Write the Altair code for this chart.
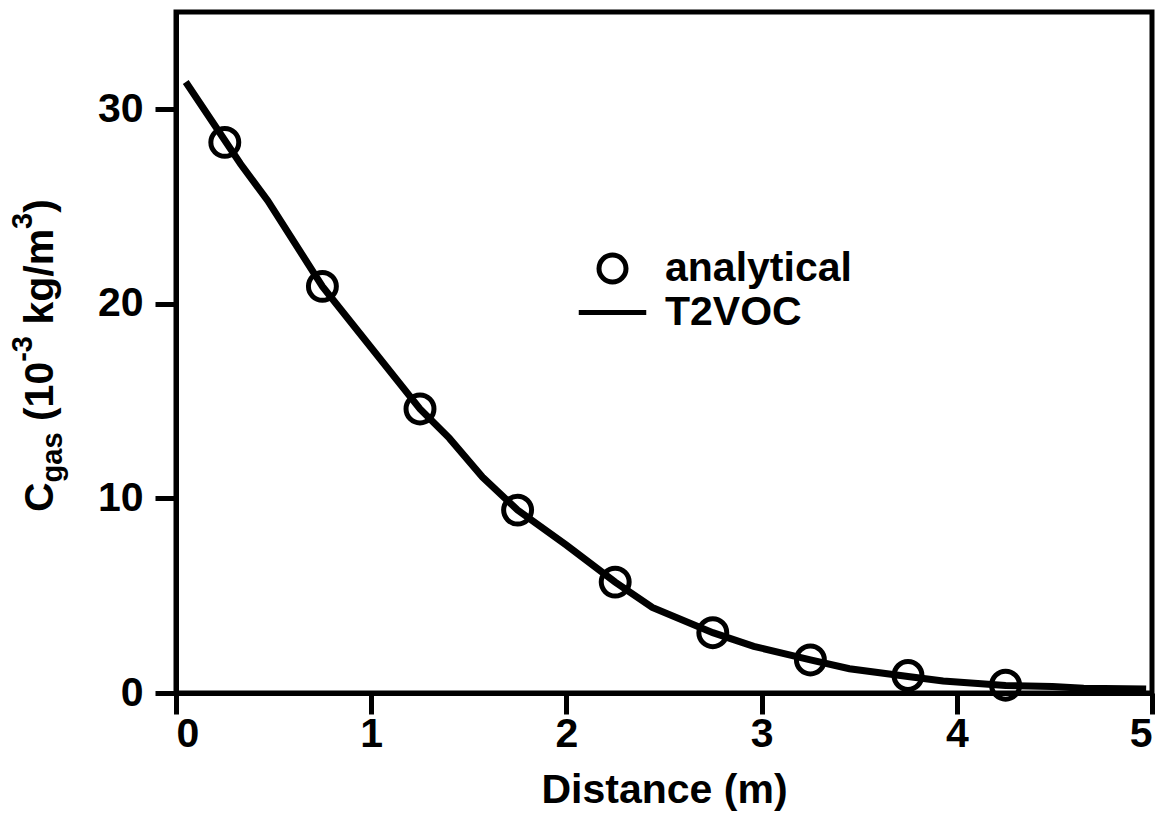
import altair as alt
import pandas as pd

# analytical solution (circles)
analytical_x = [0.25, 0.75, 1.25, 1.75, 2.25, 2.75, 3.25, 3.75, 4.25]
analytical_c = [28.3, 20.9, 14.6, 9.4, 5.7, 3.1, 1.7, 0.9, 0.4]

# T2VOC simulation (line)
t2voc_x = [0.05, 0.33, 0.47, 0.75, 0.94, 1.25, 1.40, 1.57, 1.75, 2.00, 2.25,
           2.44, 2.75, 2.96, 3.25, 3.45, 3.75, 3.93, 4.25, 4.49, 4.65, 4.97]
t2voc_c = [31.4, 27.2, 25.3, 20.9, 18.5, 14.6, 13.1, 11.1, 9.4, 7.6, 5.7,
           4.4, 3.1, 2.4, 1.7, 1.25, 0.85, 0.62, 0.38, 0.33, 0.25, 0.2]

x_ticks = [0, 1, 2, 3, 4, 5]
y_ticks = [0, 10, 20, 30]
series_names = ["analytical", "T2VOC"]

FONT = "Liberation Sans"
FS = 41

df_a = pd.DataFrame({"x": analytical_x, "c": analytical_c, "series": "analytical"})
df_t = pd.DataFrame({"x": t2voc_x, "c": t2voc_c, "series": "T2VOC"})

xs = alt.Scale(domain=[0, 5], nice=False)
ys = alt.Scale(domain=[0, 35], nice=False)

x_axis = alt.Axis(values=x_ticks, title="Distance (m)", grid=False)
y_axis = alt.Axis(values=y_ticks, title=None, grid=False)

legend = alt.Legend(
    title=None, orient="none", legendX=416, legendY=236, direction="vertical",
    labelFont=FONT, labelFontSize=FS, labelFontWeight="bold", labelColor="black",
    labelOffset=32, labelLimit=0, symbolSize=729, symbolStrokeWidth=5,
    symbolStrokeColor="black", symbolFillColor="transparent", rowPadding=-2, padding=0,
)

shape_enc = alt.Shape(
    "series:N",
    scale=alt.Scale(domain=series_names, range=["circle", "M-2.5,0L2.5,0"]),
    legend=legend,
)

line = alt.Chart(df_t).mark_line(color="black", strokeWidth=7).encode(
    x=alt.X("x:Q", scale=xs, axis=x_axis),
    y=alt.Y("c:Q", scale=ys, axis=y_axis),
)

points = alt.Chart(df_a).mark_point(
    filled=False, color="black", strokeWidth=5, opacity=1, size=780
).encode(
    x=alt.X("x:Q", scale=xs, axis=x_axis),
    y=alt.Y("c:Q", scale=ys, axis=y_axis),
    shape=shape_enc,
)

# y-axis title with subscript / superscripts, rotated
# (text, font size, baseline shift, leading gap in spaces of main font)
W = {"C": 722, "g": 611, "a": 556, "s": 556, "(": 333, ")": 333,
     "1": 556, "0": 556, "-": 333, "3": 556, "k": 556, "/": 278, "m": 889}
SPACE = 278
pieces = [("C", FS, 0, 0), ("gas", 29, 9, 0), ("(10", FS, 0, 1),
          ("-3", 29, -21, 0), ("kg/m", FS, 0, 1), ("3", 29, -21, 0), (")", FS, 0, 0)]
base_x = 53 - 176
start_y = 512 - 12
title_layers = []
cur = start_y
for txt, fs, dx, gap in pieces:
    cur -= gap * SPACE / 1000 * FS
    title_layers.append(
        alt.Chart(pd.DataFrame({"t": [txt]})).mark_text(
            angle=270, align="left", baseline="alphabetic", font=FONT,
            fontSize=fs, fontWeight="bold", color="black",
        ).encode(text="t:N", x=alt.value(base_x + dx), y=alt.value(cur))
    )
    cur -= sum(W[ch] for ch in txt) / 1000 * fs

chart = alt.layer(line, points, *title_layers).properties(
    width=976, height=681,
    padding={"left": 168, "top": 4, "right": 11, "bottom": 140},
    autosize=alt.AutoSizeParams(type="none"),
    background="white",
).configure_view(
    stroke="black", strokeWidth=5
).configure_axis(
    domainColor="black", domainWidth=5, tickColor="black", tickWidth=5,
    tickSize=21, labelFont=FONT, labelFontSize=FS, labelFontWeight="bold",
    labelColor="black", titleFont=FONT, titleFontSize=FS, titleFontWeight="bold",
    titleColor="black",
).configure_axisX(
    labelPadding=0, titlePadding=16,
).configure_axisY(
    labelPadding=12,
)

chart.save("out.html", embed_options={"renderer": "svg", "actions": False})
